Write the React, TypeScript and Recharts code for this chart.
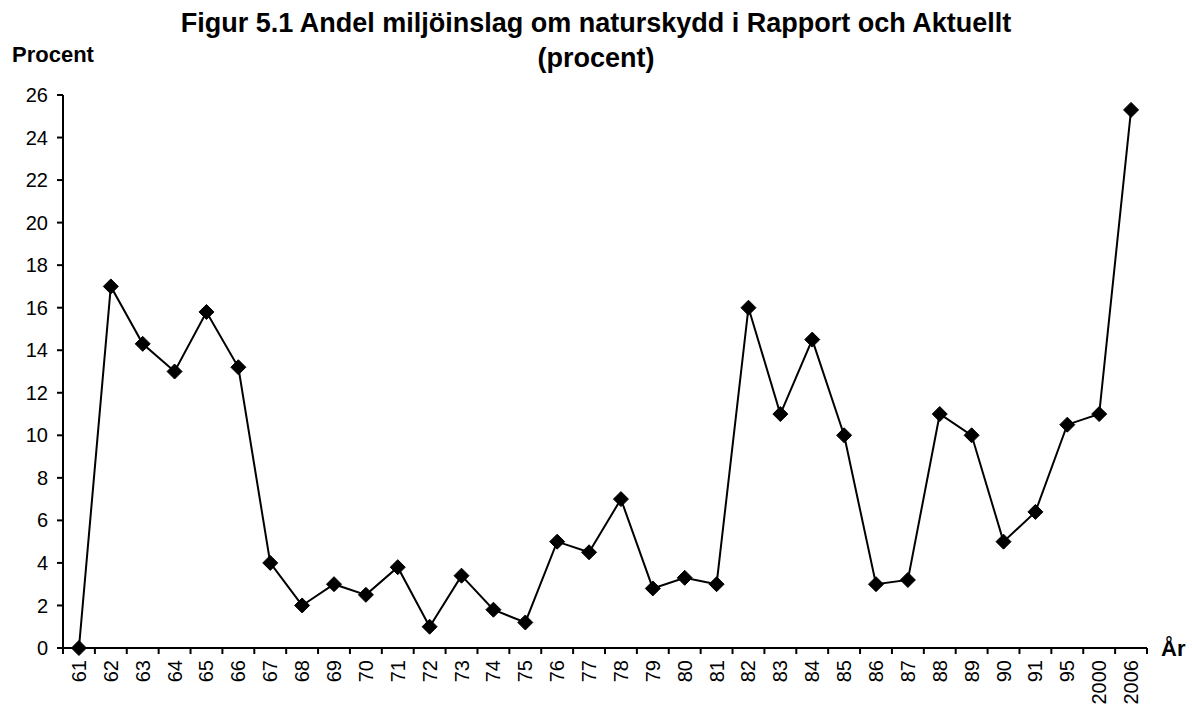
import React from 'react';
import { LineChart, Line, XAxis, YAxis } from 'recharts';

const years = ['61','62','63','64','65','66','67','68','69','70','71','72','73','74','75','76','77','78','79','80','81','82','83','84','85','86','87','88','89','90','91','95','2000','2006'];
const shares = [0,17,14.3,13,15.8,13.2,4,2,3,2.5,3.8,1,3.4,1.8,1.2,5,4.5,7,2.8,3.3,3,16,11,14.5,10,3,3.2,11,10,5,6.4,10.5,11,25.3];
const yTicks = [0,2,4,6,8,10,12,14,16,18,20,22,24,26];
const titleLine1 = 'Figur 5.1 Andel miljöinslag om naturskydd i Rapport och Aktuellt';
const titleLine2 = '(procent)';
const yLabel = 'Procent';
const xLabel = 'År';

const data = years.map((y, i) => ({ year: y, value: shares[i] }));

const FONT = '"Liberation Sans", Arial, sans-serif';
const W = 1192;
const H = 709;
const M = { top: 95, right: 45, left: 0, bottom: 0 };
const Y_AXIS_W = 63;
const X_AXIS_H = 61;
const plotW = W - M.left - M.right - Y_AXIS_W;
const half = plotW / years.length / 2;

const XTick = (props: any) => {
  const { x, y, payload, index } = props;
  return (
    <g>
      <line x1={x - half} y1={y} x2={x - half} y2={y + 6} stroke="#000" strokeWidth={2} />
      {index === years.length - 1 && (
        <line x1={x + half} y1={y} x2={x + half} y2={y + 6} stroke="#000" strokeWidth={2} />
      )}
      <text
        x={x}
        y={y + 12}
        dy="0.35em"
        textAnchor="end"
        transform={`rotate(-90, ${x}, ${y + 12})`}
        fontFamily={FONT}
        fontSize={20}
        fill="#000"
      >
        {payload.value}
      </text>
    </g>
  );
};

const Diamond = (props: any) => {
  const { cx, cy } = props;
  if (cx == null || cy == null) return null;
  const r = 7.5;
  return (
    <polygon
      points={`${cx},${cy - r} ${cx + r},${cy} ${cx},${cy + r} ${cx - r},${cy}`}
      fill="#000"
      stroke="#000"
    />
  );
};

export default function App() {
  return (
    <div style={{ position: 'absolute', left: 0, top: 0, width: W, height: H, background: '#fff', fontFamily: FONT }}>
      <div style={{ position: 'absolute', left: 596 - 550, width: 1100, top: 8, textAlign: 'center', fontSize: 27, fontWeight: 'bold', lineHeight: '30px', whiteSpace: 'nowrap' }}>
        {titleLine1}
      </div>
      <div style={{ position: 'absolute', left: 596 - 550, width: 1100, top: 43, textAlign: 'center', fontSize: 27, fontWeight: 'bold', lineHeight: '30px', whiteSpace: 'nowrap' }}>
        {titleLine2}
      </div>
      <div style={{ position: 'absolute', left: 12, top: 42, fontSize: 22, fontWeight: 'bold', lineHeight: '26px' }}>{yLabel}</div>
      <div style={{ position: 'absolute', left: 1161, top: 636, fontSize: 22, fontWeight: 'bold', lineHeight: '26px' }}>{xLabel}</div>
      <LineChart width={W} height={H} data={data} margin={M}>
        <XAxis
          dataKey="year"
          interval={0}
          height={X_AXIS_H}
          padding={{ left: half, right: half }}
          tickLine={false}
          tickSize={0}
          tickMargin={0}
          axisLine={{ stroke: '#000', strokeWidth: 2 }}
          tick={<XTick />}
        />
        <YAxis
          domain={[0, 26]}
          ticks={yTicks}
          interval={0}
          width={Y_AXIS_W}
          tickSize={6}
          tickMargin={9}
          axisLine={{ stroke: '#000', strokeWidth: 2 }}
          tickLine={{ stroke: '#000', strokeWidth: 2 }}
          tick={{ fill: '#000', fontSize: 20, fontFamily: FONT }}
        />
        <Line
          type="linear"
          dataKey="value"
          stroke="#000"
          strokeWidth={2}
          dot={<Diamond />}
          activeDot={false}
          isAnimationActive={false}
        />
      </LineChart>
    </div>
  );
}
